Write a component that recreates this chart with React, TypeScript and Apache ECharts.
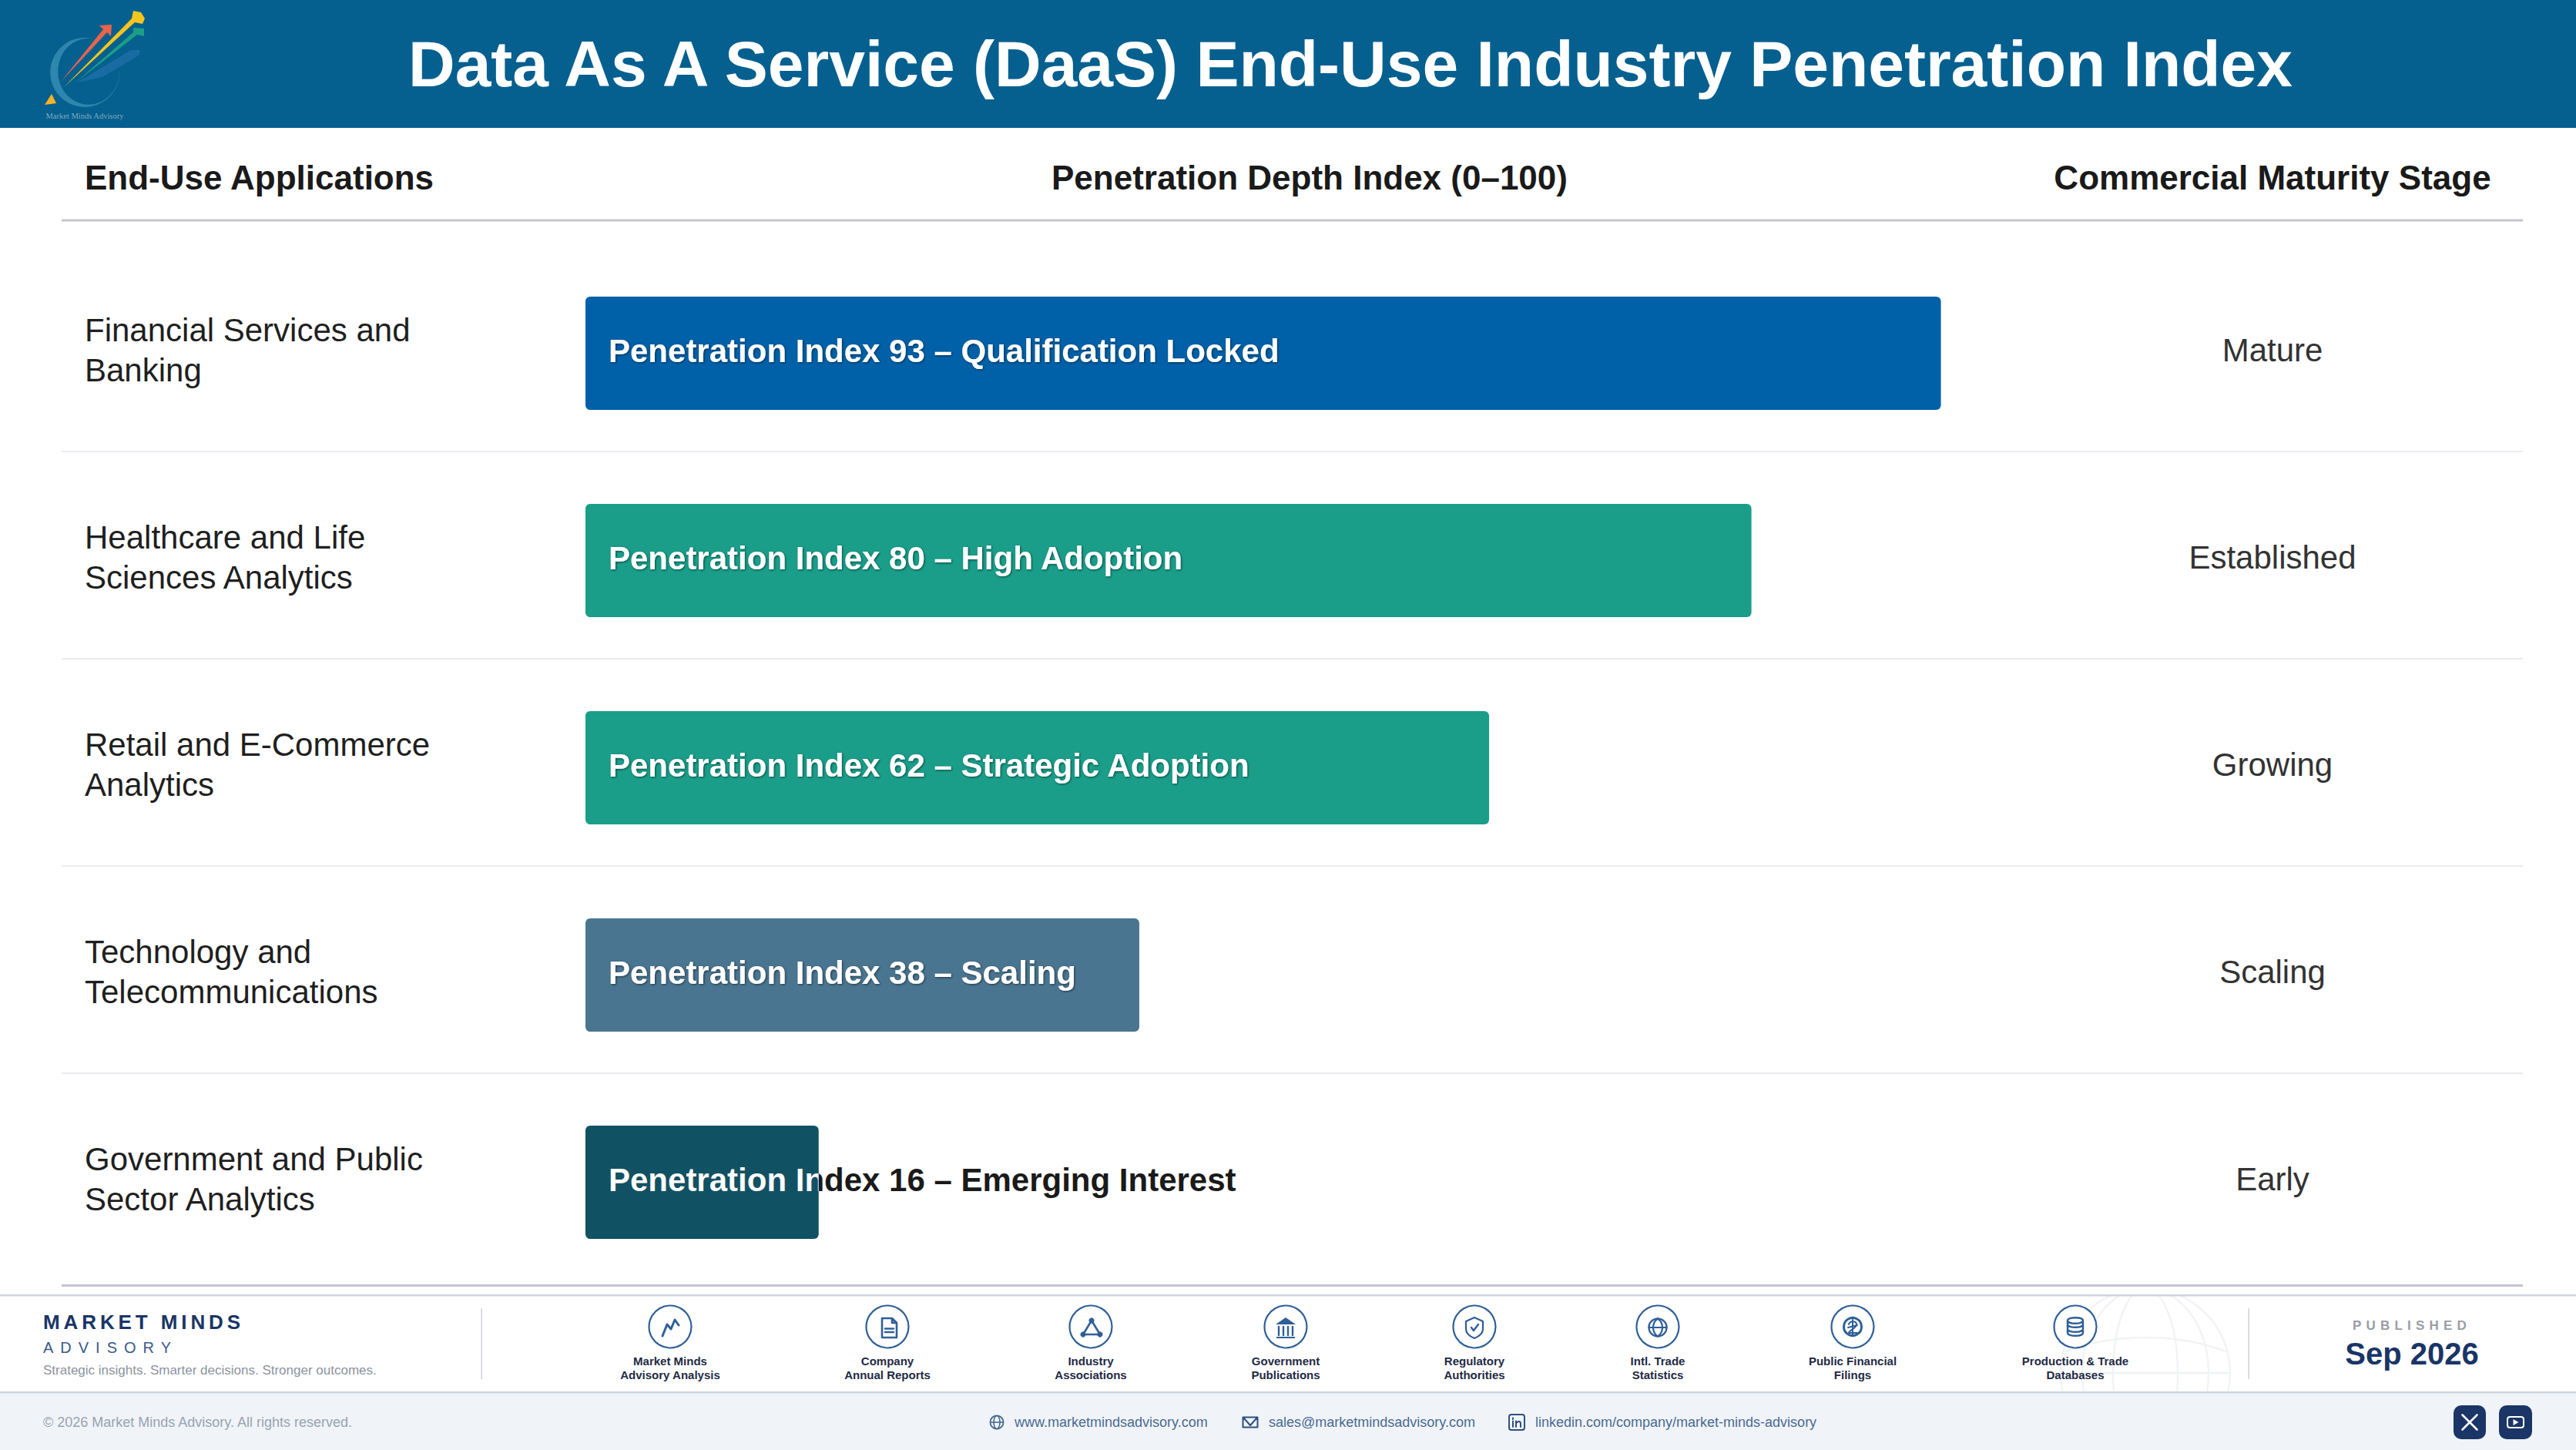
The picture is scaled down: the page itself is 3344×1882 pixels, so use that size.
import React, { useEffect, useRef } from "react";
import * as echarts from "echarts";

const W = 3344;
const H = 1882;
const FONT = '"Liberation Sans", Arial, sans-serif';

const TITLE = "Data As A Service (DaaS) End-Use Industry Penetration Index";
const COLUMN_HEADERS = ["End-Use Applications", "Penetration Depth Index (0–100)", "Commercial Maturity Stage"];
const categories = [
  "Financial Services and\nBanking",
  "Healthcare and Life\nSciences Analytics",
  "Retail and E-Commerce\nAnalytics",
  "Technology and\nTelecommunications",
  "Government and Public\nSector Analytics",
];
const indexValues = [93, 80, 62, 38, 16];
const barLabels = ["Qualification Locked", "High Adoption", "Strategic Adoption", "Scaling", "Emerging Interest"];
const barColors = ["#0061A8", "#1A9E8A", "#1A9E8A", "#4A7590", "#105264"];
const stages = ["Mature", "Established", "Growing", "Scaling", "Early"];

const sourceLabels = [
  "Market Minds\nAdvisory Analysis",
  "Company\nAnnual Reports",
  "Industry\nAssociations",
  "Government\nPublications",
  "Regulatory\nAuthorities",
  "Intl. Trade\nStatistics",
  "Public Financial\nFilings",
  "Production & Trade\nDatabases",
];
const sourceX = [870, 1152, 1416, 1669, 1914, 2152, 2405, 2694];

const GRID_LEFT = 760;
const GRID_RIGHT_X = 2652;
const GRID_TOP = 324;
const GRID_BOTTOM_Y = 1669;
const LABEL_LIFT = 4;
const separatorY = [585, 854, 1123, 1392];

const ICON = "#2F5F98";
const NAVY = "#1A3566";
const CONTACT = "#4A6A92";

const shapes: Record<string, string> = {
  mmRing: "M 120 50 A 45 45 0 1 0 155 90 A 40 43 0 1 1 120 50 Z",
  mmRed: "M 79 106 L 134 38 L 129 33 L 145 32 L 144 47 L 139 42 Z",
  mmYellow: "M 83 113 L 171 24 L 173 14 L 183 16 L 188 24 L 185 31 L 175 29 Z",
  mmTeal: "M 97 108 L 173 42 L 173 36 L 187 37 L 187 47 L 178 45 Z",
  mmBlue: "M 100 107 L 170 65 L 182 65 L 180 72 L 133 100 Z",
  icTrend: "M -10 12 L -4 -3 L 1 3 L 6 -9 L 11 -2",
  icDoc: "M -7 -11 L 6 -11 L 12 -5 L 12 14 L -7 14 Z M 6 -11 L 6 -5 L 12 -5 M -3 2.5 L 8 2.5 M -3 7 L 8 7",
  icTri: "M 1 -8 L -10 10 L 12 10 Z",
  icBank: "M 0 -12 L 13 -3 L -13 -3 Z M -12 13 L 12 13 L 12 15 L -12 15 Z",
  icCols: "M -9 0 L -9 11 M -3 0 L -3 11 M 3 0 L 3 11 M 9 0 L 9 11",
  icShield: "M 0 -12 L 11 -7 L 11 3 C 11 9 5 13 0 15 C -5 13 -11 9 -11 3 L -11 -7 Z",
  icCheck: "M -4 1 L -1 5 L 5 -3",
  icGlobe: "M -11.5 0 L 11.5 0 M 0 -11.5 C -8 -6 -8 6 0 11.5 C 8 6 8 -6 0 -11.5 Z",
  icCoin: "M -5 -3 C -4 -8 5 -8 5 -3 C 5 2 -4 4 -5 8 L 6 8 M -6 1 L 6 -2 M 0 -9 L 0 10",
  icDb: "M -10 -8 C -10 -13 10 -13 10 -8 C 10 -3 -10 -3 -10 -8 Z M -10 -8 L -10 8 C -10 13 10 13 10 8 L 10 -8 M -10 -3 C -10 2 10 2 10 -3 M -10 3 C -10 8 10 8 10 3",
  icMail: "M -9.5 -6.5 L 9.5 -6.5 L 9.5 6.5 L -9.5 6.5 Z M -8 -5 L 0 4 L 8 -5",
  icIn: "M -5 -1.5 L -5 6 M -5 -5.5 L -5 -4 M -1 6 L -1 -1.5 M -1 1.5 C 1 -2 5 -2 5 2 L 5 6",
  icInBox: "M -7 -10 L 7 -10 Q 10 -10 10 -7 L 10 7 Q 10 10 7 10 L -7 10 Q -10 10 -10 7 L -10 -7 Q -10 -10 -7 -10 Z",
  icPlay: "M -7 -7 L 7 -7 Q 10.5 -7 10.5 -4 L 10.5 4 Q 10.5 7 7 7 L -7 7 Q -10.5 7 -10.5 4 L -10.5 -4 Q -10.5 -7 -7 -7 Z",
  icPlayTri: "M -3 -4 L 4 0 L -3 4 Z",
  icX: "M -9.5 -9.5 L 9.5 9.5 M 9.5 -9.5 L -9.5 9.5",
};
let shapesRegistered = false;
function registerShapes() {
  if (shapesRegistered) return;
  shapesRegistered = true;
  Object.keys(shapes).forEach((k) => {
    echarts.graphic.registerShape(k, echarts.graphic.extendPath(shapes[k], {}) as any);
  });
}

const rect = (x: number, y: number, w: number, h: number, fill: string, r = 0) => ({
  type: "rect",
  shape: { x, y, width: w, height: h, r },
  style: { fill },
  silent: true,
});
const txt = (text: string, x: number, y: number, font: string, fill: string, align = "left", lineHeight?: number) => ({
  type: "text",
  style: { text, x, y, font, fill, align, verticalAlign: "middle", textAlign: align, textVerticalAlign: "middle", lineHeight },
  silent: true,
});
const stroked = (name: string, x: number, y: number, stroke: string, lineWidth = 2.5) => ({
  type: name,
  x,
  y,
  style: { fill: "none", stroke, lineWidth, lineJoin: "round", lineCap: "round" },
  silent: true,
});
const filled = (name: string, x: number, y: number, fill: string, opacity = 1) => ({
  type: name,
  x,
  y,
  style: { fill, opacity },
  silent: true,
});

function sourceIcon(i: number, cx: number, cy: number): any[] {
  const ring = { type: "circle", shape: { cx, cy, r: 27.5 }, style: { fill: "#FFFFFF", stroke: ICON, lineWidth: 2.2 }, silent: true };
  const dot = (dx: number, dy: number) => ({ type: "circle", shape: { cx: cx + dx, cy: cy + dy, r: 3.6 }, style: { fill: ICON }, silent: true });
  const c = (r: number, lw: number, dy = 0) => ({ type: "circle", shape: { cx, cy: cy + dy, r }, style: { fill: "none", stroke: ICON, lineWidth: lw }, silent: true });
  switch (i) {
    case 0: return [ring, stroked("icTrend", cx, cy, ICON, 3)];
    case 1: return [ring, stroked("icDoc", cx, cy, ICON, 2.6)];
    case 2: return [ring, stroked("icTri", cx, cy, ICON, 2.6), dot(1, -8), dot(-10, 10), dot(12, 10)];
    case 3: return [ring, filled("icBank", cx, cy, ICON), stroked("icCols", cx, cy, ICON, 2.4)];
    case 4: return [ring, stroked("icShield", cx, cy, ICON, 2.2), stroked("icCheck", cx, cy, ICON, 2.4)];
    case 5: return [ring, c(11.5, 2.4, 1), stroked("icGlobe", cx, cy + 1, ICON, 2.2)];
    case 6: return [ring, c(11.5, 3), stroked("icCoin", cx, cy, ICON, 2)];
    default: return [ring, stroked("icDb", cx, cy, ICON, 2.4)];
  }
}

function buildGraphics(): any[] {
  const g: any[] = [];
  // page header
  g.push(rect(0, 0, W, 166, "#05608F"));
  g.push(filled("mmBlue", 0, 0, "#1E6FA6", 0.8));
  g.push(filled("mmRing", 0, 0, "#2C86AE"));
  g.push(filled("mmRed", 0, 0, "#E8644A"));
  g.push(filled("mmTeal", 0, 0, "#1C9E86"));
  g.push(filled("mmYellow", 0, 0, "#F7C51E"));
  g.push({ type: "polygon", shape: { points: [[58, 136], [67, 122], [73, 134]] }, style: { fill: "#F5B324" }, silent: true });
  g.push(txt("Market Minds Advisory", 110, 150, '10.5px "Liberation Serif", serif', "#7FA8BE", "center"));
  g.push(txt(TITLE, 1753, 83, `bold 84px ${FONT}`, "#FFFFFF", "center"));

  // column headers
  g.push(txt(COLUMN_HEADERS[0], 110, 230, `bold 44px ${FONT}`, "#1A1A1A"));
  g.push(txt(COLUMN_HEADERS[1], 1700, 230, `bold 44px ${FONT}`, "#1A1A1A", "center"));
  g.push(txt(COLUMN_HEADERS[2], 2950, 230, `bold 44px ${FONT}`, "#1A1A1A", "center"));
  g.push(rect(80, 284.5, 3195, 3, "#C4C5CF"));

  separatorY.forEach((y) => g.push(rect(80, y, 3195, 2, "#E9EBEF")));

  // watermark globe in the footer
  const faint = "#F2F3F6";
  const gx = 2785;
  const gy = 1782;
  const ringEl = (rx: number) => ({ type: "ellipse", shape: { cx: gx, cy: gy, rx, ry: 110 }, style: { fill: "none", stroke: faint, lineWidth: 2.5 }, silent: true });
  g.push(ringEl(110), ringEl(82), ringEl(42));
  g.push({ type: "line", shape: { x1: gx - 110, y1: gy, x2: gx + 110, y2: gy }, style: { stroke: faint, lineWidth: 3 }, silent: true });
  g.push({
    type: "bezierCurve",
    shape: { x1: gx - 104, y1: gy - 28, cpx1: gx - 40, cpy1: gy - 52, cpx2: gx + 40, cpy2: gy - 52, x2: gx + 104, y2: gy - 28 },
    style: { fill: "none", stroke: faint, lineWidth: 2.5 },
    silent: true,
  });

  // footer frames cover what overflows the footer band
  g.push(rect(0, 1669, W, 12, "#FFFFFF"));
  g.push(rect(80, 1667, 3195, 3, "#C4C5CF"));
  g.push(rect(0, 1680, W, 2.5, "#D0D2DE"));
  g.push(rect(0, 1806, W, 76, "#F0F4F8"));
  g.push(rect(0, 1806, W, 2.5, "#CFD5E2"));
  g.push(rect(624.5, 1698, 1.5, 92, "#CFD2DA"));
  g.push(rect(2918.5, 1698, 1.5, 92, "#CFD2DA"));

  g.push(txt("MARKET MINDS", 56, 1716, `bold 26px ${FONT}`, NAVY));
  g.push(txt("ADVISORY", 56, 1749, `20px ${FONT}`, "#3A5A8A"));
  g.push(txt("Strategic insights. Smarter decisions. Stronger outcomes.", 56, 1778, `17px ${FONT}`, "#8C93A0"));

  sourceLabels.forEach((label, i) => {
    g.push(...sourceIcon(i, sourceX[i], 1722));
    g.push(txt(label, sourceX[i], 1775, `bold 15px ${FONT}`, "#1F2A44", "center", 18));
  });

  g.push(txt("PUBLISHED", 3131, 1720, `bold 17px ${FONT}`, "#9A9DA5", "center"));
  g.push(txt("Sep 2026", 3131, 1757, `bold 40px ${FONT}`, NAVY, "center"));

  g.push(txt("© 2026 Market Minds Advisory. All rights reserved.", 56, 1846, `18px ${FONT}`, "#9AA3B0"));
  g.push({ type: "circle", shape: { cx: 1294, cy: 1846, r: 8.5 }, style: { fill: "none", stroke: CONTACT, lineWidth: 1.8 }, silent: true });
  g.push({ type: "ellipse", shape: { cx: 1294, cy: 1846, rx: 4, ry: 8.5 }, style: { fill: "none", stroke: CONTACT, lineWidth: 1.6 }, silent: true });
  g.push({ type: "line", shape: { x1: 1285.5, y1: 1846, x2: 1302.5, y2: 1846 }, style: { stroke: CONTACT, lineWidth: 1.6 }, silent: true });
  g.push(txt("www.marketmindsadvisory.com", 1317, 1846, `18px ${FONT}`, CONTACT));
  g.push(stroked("icMail", 1623, 1846, "#2F4F7F", 2));
  g.push(txt("sales@marketmindsadvisory.com", 1647, 1846, `18px ${FONT}`, CONTACT));
  g.push(stroked("icInBox", 1969, 1846, "#2F4F7F", 2));
  g.push(stroked("icIn", 1969, 1846, "#2F4F7F", 2));
  g.push(txt("linkedin.com/company/market-minds-advisory", 1993, 1846, `18px ${FONT}`, CONTACT));

  g.push(rect(3185, 1824, 42, 44, NAVY, 10));
  g.push(rect(3244, 1824, 43, 44, NAVY, 10));
  g.push(stroked("icX", 3206, 1846, "#FFFFFF", 2.6));
  g.push(stroked("icPlay", 3265.5, 1846, "#FFFFFF", 2));
  g.push(filled("icPlayTri", 3265.5, 1846, "#FFFFFF"));
  return g;
}

const LABEL_FONT = `bold 42px ${FONT}`;
const LABEL_PAD = 30;
const fullLabel = (i: number) => `Penetration Index ${indexValues[i]} – ${barLabels[i]}`;

function labelWidth(text: string): number {
  const ctx = document.createElement("canvas").getContext("2d") as CanvasRenderingContext2D;
  ctx.font = LABEL_FONT;
  return ctx.measureText(text).width;
}

const LETTER_SPACING: Record<string, string> = {
  "MARKET MINDS": "4.9px",
  ADVISORY: "9px",
  PUBLISHED: "6.2px",
};

export default function App() {
  const ref = useRef<HTMLDivElement>(null);
  useEffect(() => {
    document.body.style.margin = "0";
    registerShapes();
    const chart = echarts.init(ref.current as HTMLDivElement, undefined, { renderer: "svg", width: W, height: H });
    chart.setOption({
      animation: false,
      backgroundColor: "#FFFFFF",
      textStyle: { fontFamily: FONT },
      graphic: { elements: buildGraphics() },
      grid: [
        { left: GRID_LEFT, right: W - GRID_RIGHT_X, top: GRID_TOP, bottom: H - GRID_BOTTOM_Y, containLabel: false },
        // text columns sit a few pixels above the bar centres
        { left: GRID_LEFT, right: W - GRID_RIGHT_X, top: GRID_TOP - LABEL_LIFT, bottom: H - GRID_BOTTOM_Y + LABEL_LIFT, containLabel: false },
      ],
      xAxis: [
        { type: "value", gridIndex: 0, min: 0, max: 100, show: false },
        { type: "value", gridIndex: 1, min: 0, max: 100, show: false },
      ],
      yAxis: [
        { type: "category", gridIndex: 0, inverse: true, data: categories, show: false },
        {
          type: "category",
          gridIndex: 1,
          inverse: true,
          data: categories,
          position: "left",
          axisLine: { show: false },
          axisTick: { show: false },
          splitLine: { show: false },
          axisLabel: {
            align: "left",
            margin: GRID_LEFT - 110,
            fontFamily: FONT,
            fontSize: 42,
            lineHeight: 52,
            color: "#1F1F1F",
          },
        },
        {
          type: "category",
          gridIndex: 1,
          inverse: true,
          data: stages,
          position: "right",
          axisLine: { show: false },
          axisTick: { show: false },
          splitLine: { show: false },
          axisLabel: {
            align: "center",
            margin: 2950 - GRID_RIGHT_X,
            fontFamily: FONT,
            fontSize: 42,
            color: "#333333",
          },
        },
      ],
      series: [
        {
          type: "bar",
          xAxisIndex: 0,
          yAxisIndex: 0,
          barWidth: 147,
          silent: true,
          data: indexValues.map((v, i) => ({
            value: v,
            itemStyle: { color: barColors[i], borderRadius: 6 },
          })),
        },
        {
          type: "custom",
          xAxisIndex: 0,
          yAxisIndex: 0,
          silent: true,
          z: 5,
          encode: { x: 0, y: 1 },
          data: indexValues.map((v, i) => [v, i]),
          renderItem: (p: any, api: any) => {
            const i = p.dataIndex;
            const start = api.coord([0, i]);
            const end = api.coord([api.value(0), i]);
            const text = fullLabel(i);
            const tx = start[0] + LABEL_PAD;
            const ty = start[1] - 3;
            const overflow = tx + labelWidth(text) > end[0];
            const base = { text, x: tx, y: ty, font: LABEL_FONT, align: "left", verticalAlign: "middle" };
            if (!overflow) {
              return {
                type: "text",
                style: {
                  ...base,
                  fill: "#FFFFFF",
                  textShadowColor: "rgba(0,0,0,0.55)",
                  textShadowBlur: 3,
                  textShadowOffsetX: 1,
                  textShadowOffsetY: 1,
                },
              };
            }
            return {
              type: "group",
              children: [
                { type: "text", style: { ...base, fill: "#1A1A1A" } },
                {
                  type: "text",
                  style: { ...base, fill: "#FFFFFF" },
                  clipPath: { type: "rect", shape: { x: start[0], y: start[1] - 70, width: end[0] - start[0], height: 140 } },
                },
              ],
            };
          },
        },
      ],
    });
    // ECharts has no letter-spacing option: apply the tracking to the rendered SVG texts.
    (ref.current as HTMLDivElement).querySelectorAll("text").forEach((t) => {
      const s = LETTER_SPACING[(t.textContent || "").trim()];
      if (s) t.style.letterSpacing = s;
    });
    return () => chart.dispose();
  }, []);
  return <div ref={ref} style={{ position: "absolute", left: 0, top: 0, width: W, height: H }} />;
}
